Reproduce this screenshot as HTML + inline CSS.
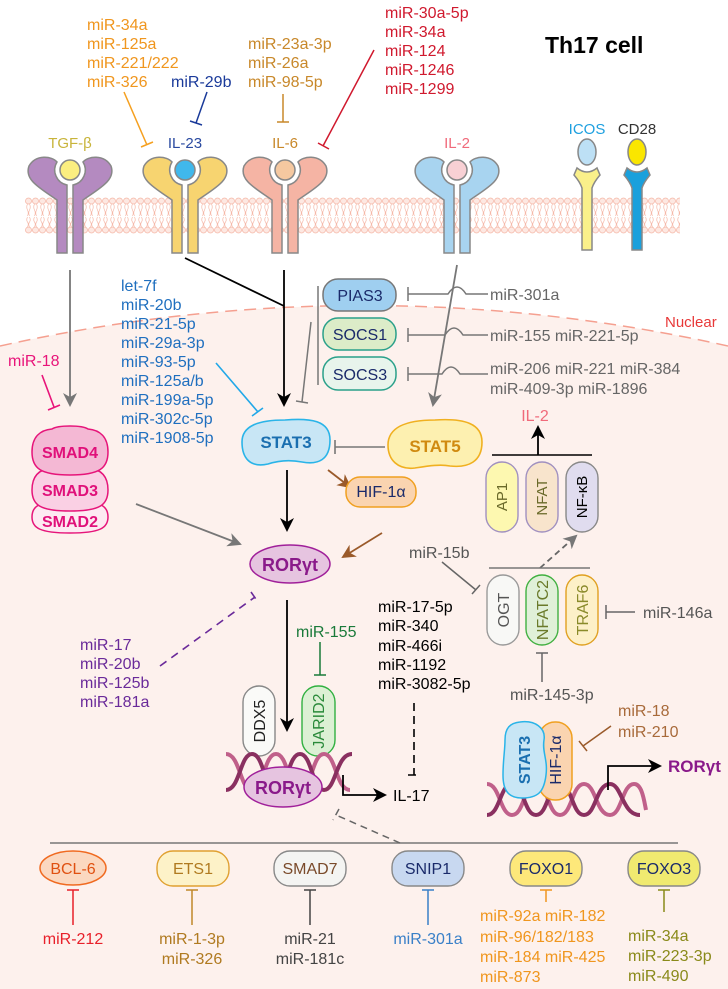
<!DOCTYPE html>
<html><head><meta charset="utf-8"><style>
html,body{margin:0;padding:0;background:#fff}
svg{display:block}
text{font-family:"Liberation Sans",Arial,sans-serif}
</style></head><body>
<svg width="728" height="989" viewBox="0 0 728 989" xmlns="http://www.w3.org/2000/svg">
<defs>
<pattern id="mem" x="25" y="197" width="7" height="38" patternUnits="userSpaceOnUse">
<circle cx="3.5" cy="4" r="3" fill="#fde8e2" stroke="#f5b8a8" stroke-width="0.8"/>
<circle cx="3.5" cy="33" r="3" fill="#fde8e2" stroke="#f5b8a8" stroke-width="0.8"/>
<path d="M2.5 7 q-1.5 3 0 6 t0 6 M4.5 7 q1.5 3 0 6 t0 6 M2.5 20 q-1.5 3 0 5 t0 5 M4.5 20 q1.5 3 0 5 t0 5" fill="none" stroke="#f5b8a8" stroke-width="0.7"/>
</pattern>
<marker id="ag" markerWidth="14" markerHeight="14" refX="12" refY="7" orient="auto" markerUnits="userSpaceOnUse"><path d="M0,0 L14,7 L0,14 L4,7 Z" fill="#777"/></marker>
<marker id="ak" markerWidth="14" markerHeight="14" refX="12" refY="7" orient="auto" markerUnits="userSpaceOnUse"><path d="M0,0 L14,7 L0,14 L4,7 Z" fill="#000"/></marker>
<marker id="abr" markerWidth="14" markerHeight="14" refX="12" refY="7" orient="auto" markerUnits="userSpaceOnUse"><path d="M0,0 L14,7 L0,14 L4,7 Z" fill="#9a5a2a"/></marker>
<g id="rl"><path d="M-3,95 L-3,27 A15.3 15.3 0 0 1 -13,4 C-18,-2 -34,-4 -41,8 C-46,22 -30,30 -13,42 L-13,95 Z"/></g>
</defs>

<path d="M0,346 Q364,265 728,346 L728,989 L0,989 Z" fill="#fdf1ed"/>
<path d="M0,346 Q364,265 728,346" fill="none" stroke="#f5a090" stroke-width="1.5" stroke-dasharray="12,7"/>
<text x="665" y="327" font-size="15" fill="#e83838">Nuclear</text>

<rect x="25" y="197" width="655" height="38" fill="url(#mem)"/>

<text x="545" y="53" font-size="23" font-weight="bold" fill="#000">Th17 cell</text>

<g stroke="#888" stroke-width="1.5">
<g transform="translate(70,158)" fill="#b48ac0"><use href="#rl"/><use href="#rl" transform="scale(-1,1)"/><circle cx="0" cy="12" r="10" fill="#fbee80"/></g>
<g transform="translate(185,158)" fill="#f7d470"><use href="#rl"/><use href="#rl" transform="scale(-1,1)"/><circle cx="0" cy="12" r="10" fill="#40b8ec"/></g>
<g transform="translate(285,158)" fill="#f5b4a4"><use href="#rl"/><use href="#rl" transform="scale(-1,1)"/><circle cx="0" cy="12" r="10" fill="#f5c8a0"/></g>
<g transform="translate(457,158)" fill="#a8d4f0"><use href="#rl"/><use href="#rl" transform="scale(-1,1)"/><circle cx="0" cy="12" r="10" fill="#f8d0d4"/></g>
<ellipse cx="587" cy="152" rx="9" ry="13" fill="#bde0f5"/>
<path d="M577,168 Q587,176 597,168 L600,175 Q594,182 592,188 L592,250 L582,250 L582,188 Q580,182 574,175 Z" fill="#faf08a"/>
<ellipse cx="637" cy="152" rx="9" ry="13" fill="#fae600"/>
<path d="M627,168 Q637,176 647,168 L650,175 Q644,182 642,188 L642,250 L632,250 L632,188 Q630,182 624,175 Z" fill="#1aa0dc"/>
</g>
<text x="70" y="148" font-size="15" fill="#c8b43a" text-anchor="middle">TGF-β</text>
<text x="185" y="148" font-size="15" fill="#2a4aa0" text-anchor="middle">IL-23</text>
<text x="285" y="148" font-size="15" fill="#c8882a" text-anchor="middle">IL-6</text>
<text x="457" y="148" font-size="15" fill="#f06a7a" text-anchor="middle">IL-2</text>
<text x="587" y="134" font-size="15" fill="#1ea0e0" text-anchor="middle">ICOS</text>
<text x="637" y="134" font-size="15" fill="#333" text-anchor="middle">CD28</text>

<g font-size="16">
<g fill="#f0961e"><text x="87" y="30">miR-34a</text><text x="87" y="49">miR-125a</text><text x="87" y="68">miR-221/222</text><text x="87" y="87">miR-326</text></g>
<text x="171" y="87" fill="#1a3a9a">miR-29b</text>
<g fill="#c8882a"><text x="248" y="49">miR-23a-3p</text><text x="248" y="68">miR-26a</text><text x="248" y="87">miR-98-5p</text></g>
<g fill="#d0192e"><text x="385" y="18">miR-30a-5p</text><text x="385" y="37">miR-34a</text><text x="385" y="56">miR-124</text><text x="385" y="75">miR-1246</text><text x="385" y="94">miR-1299</text></g>
</g>
<g fill="none" stroke-width="1.5">
<path d="M124,92 L147,145 M141,147 L153,142" stroke="#f5a020"/>
<path d="M207,92 L196,123 M190,121 L202,125" stroke="#1a3a9a"/>
<path d="M283,94 L283,122 M277,122 L289,122" stroke="#c8882a"/>
<path d="M374,50 L323,146 M318,143 L329,149" stroke="#d0192e"/>
</g>

<g fill="none" stroke-width="1.8">
<path d="M70,270 L70,405" stroke="#777" marker-end="url(#ag)"/>
<path d="M185,258 L284,306" stroke="#000"/>
<path d="M284,270 L284,405" stroke="#000" marker-end="url(#ak)"/>
<path d="M457,265 L433,405" stroke="#777" marker-end="url(#ag)"/>
</g>

<g stroke-width="1.5">
<rect x="323" y="279" width="73" height="32" rx="15" fill="#9fcff0" stroke="#777"/>
<rect x="323" y="318" width="73" height="32" rx="15" fill="#dcecc8" stroke="#2aa08a"/>
<rect x="323" y="357" width="73" height="33" rx="15" fill="#e8f4ec" stroke="#2aa08a"/>
</g>
<g font-size="16" fill="#1a2a6a" text-anchor="middle"><text x="360" y="301">PIAS3</text><text x="360" y="340">SOCS1</text><text x="360" y="380">SOCS3</text></g>
<g fill="none" stroke="#777" stroke-width="1.5">
<path d="M318,286 L318,385"/>
<path d="M311,322 L302,402 M296,401 L308,403"/>
<path d="M488,294 L466,294 Q457,280 448,294 L408,294 M408,287 L408,301"/>
<path d="M488,335 L463,335 Q454,321 445,335 L408,335 M408,328 L408,342"/>
<path d="M488,374 L460,374 Q451,360 442,374 L408,374 M408,367 L408,381"/>
</g>
<g font-size="16" fill="#666" xml:space="preserve"><text x="490" y="300">miR-301a</text><text x="490" y="341">miR-155  miR-221-5p</text><text x="490" y="374">miR-206  miR-221 miR-384</text><text x="490" y="394">miR-409-3p miR-1896</text></g>

<g font-size="16" fill="#1f6fbf"><text x="121" y="291">let-7f</text><text x="121" y="310">miR-20b</text><text x="121" y="329">miR-21-5p</text><text x="121" y="348">miR-29a-3p</text><text x="121" y="367">miR-93-5p</text><text x="121" y="386">miR-125a/b</text><text x="121" y="405">miR-199a-5p</text><text x="121" y="424">miR-302c-5p</text><text x="121" y="443">miR-1908-5p</text></g>
<path d="M216,363 L258,412 M252,416 L263,408" fill="none" stroke="#22a8e8" stroke-width="1.6"/>

<text x="8" y="366" font-size="16" fill="#e8157a">miR-18</text>
<path d="M42,375 L54,407 M48,410 L60,405" fill="none" stroke="#e8157a" stroke-width="1.6"/>
<g stroke="#e6157a" stroke-width="1.5">
<path d="M70,533 C40,533 32,528 32,517 C32,506 40,503 52,502 C58,500 82,500 88,502 C100,503 108,506 108,517 C108,528 100,533 70,533 Z" fill="#fdeaf2"/>
<path d="M70,511 C40,511 32,505 32,490 C32,475 40,469 52,468 C58,466 82,466 88,468 C100,469 108,475 108,490 C108,505 100,511 70,511 Z" fill="#fad0e4"/>
<path d="M70,475 C40,475 32,468 32,452 C32,437 40,430 52,429 C58,425 82,425 88,429 C100,430 108,437 108,452 C108,468 100,475 70,475 Z" fill="#f4b8d4"/>
</g>
<g font-size="16" font-weight="bold" fill="#e0107a" text-anchor="middle"><text x="70" y="458">SMAD4</text><text x="70" y="496">SMAD3</text><text x="70" y="527">SMAD2</text></g>
<path d="M136,504 L240,544" fill="none" stroke="#777" stroke-width="1.8" marker-end="url(#ag)"/>

<path d="M285,420 C310,418 330,420 330,440 C330,460 318,465 302,462 C292,460 280,460 268,464 C250,468 242,458 242,442 C242,426 258,420 285,420 Z" fill="#c8e6f5" stroke="#2ab4e8" stroke-width="1.6"/>
<text x="286" y="448" font-size="17" font-weight="bold" fill="#1a6fb0" text-anchor="middle">STAT3</text>
<path d="M435,420 C465,418 482,424 482,442 C482,462 468,468 450,466 C440,464 428,466 415,468 C398,470 388,460 388,445 C388,428 405,420 435,420 Z" fill="#fdf0b0" stroke="#f0b020" stroke-width="1.6"/>
<text x="435" y="452" font-size="17" font-weight="bold" fill="#d08a10" text-anchor="middle">STAT5</text>
<path d="M385,447 L335,447 M335,440 L335,454" fill="none" stroke="#777" stroke-width="1.6"/>
<path d="M328,470 L350,487" fill="none" stroke="#9a5a2a" stroke-width="1.8" marker-end="url(#abr)"/>
<rect x="346" y="477" width="70" height="30" rx="14" fill="#fad4b0" stroke="#f0a020" stroke-width="1.5"/>
<text x="381" y="497" font-size="16" fill="#1a2a6a" text-anchor="middle">HIF-1α</text>
<path d="M382,533 L343,557" fill="none" stroke="#9a5a2a" stroke-width="1.8" marker-end="url(#abr)"/>
<path d="M287,470 L287,530" fill="none" stroke="#000" stroke-width="1.8" marker-end="url(#ak)"/>

<ellipse cx="290" cy="564" rx="40" ry="19" fill="#e6c4e0" stroke="#a0209a" stroke-width="1.5"/>
<text x="290" y="571" font-size="18" font-weight="bold" fill="#8a1a8a" text-anchor="middle">RORγt</text>
<path d="M160,666 L255,597 M251,592 L258,602" fill="none" stroke="#6a2a9a" stroke-width="1.6" stroke-dasharray="8,6"/>
<g font-size="16" fill="#6a2a9a"><text x="80" y="650">miR-17</text><text x="80" y="669">miR-20b</text><text x="80" y="688">miR-125b</text><text x="80" y="707">miR-181a</text></g>
<path d="M287,600 L287,730" fill="none" stroke="#000" stroke-width="1.8" marker-end="url(#ak)"/>
<text x="296" y="637" font-size="16" fill="#1a7a3a">miR-155</text>
<path d="M320,642 L320,675 M314,675 L326,675" fill="none" stroke="#1a7a3a" stroke-width="1.5"/>
<rect x="243" y="686" width="32" height="70" rx="16" fill="#fafaf8" stroke="#888" stroke-width="1.4"/>
<text transform="translate(265,721) rotate(-90)" font-size="16" fill="#222" text-anchor="middle">DDX5</text>
<rect x="302" y="686" width="33" height="70" rx="16" fill="#dcf0d4" stroke="#30b040" stroke-width="1.4"/>
<text transform="translate(324,721) rotate(-90)" font-size="16" fill="#2a8a3a" text-anchor="middle">JARID2</text>

<g fill="none" stroke-width="4">
<path d="M226,754 C240,754 240,790 252,790 C264,790 264,754 276,754 C288,754 288,790 300,790 C312,790 312,754 324,754 C336,754 336,790 350,790" stroke="#c0608a"/>
<path d="M226,790 C240,790 240,754 252,754 C264,754 264,790 276,790 C288,790 288,754 300,754 C312,754 312,790 324,790 C336,790 336,754 352,754" stroke="#8a3060"/>
</g>
<ellipse cx="283" cy="787" rx="39" ry="20" fill="#e6c4e0" stroke="#a0209a" stroke-width="1.5"/>
<text x="283" y="794" font-size="18" font-weight="bold" fill="#8a1a8a" text-anchor="middle">RORγt</text>
<path d="M343,775 L343,795 L385,795" fill="none" stroke="#000" stroke-width="1.8" marker-end="url(#ak)"/>
<text x="393" y="801" font-size="16" fill="#000">IL-17</text>
<g font-size="16" fill="#000"><text x="378" y="612">miR-17-5p</text><text x="378" y="631">miR-340</text><text x="378" y="651">miR-466i</text><text x="378" y="670">miR-1192</text><text x="378" y="689">miR-3082-5p</text></g>
<path d="M414,703 L414,775 M408,775 L420,775" fill="none" stroke="#000" stroke-width="1.6" stroke-dasharray="8,5"/>

<text x="535" y="421" font-size="16" fill="#f06a7a" text-anchor="middle">IL-2</text>
<path d="M492,455 L592,455" stroke="#000" stroke-width="1.6"/>
<path d="M538,455 L538,427" fill="none" stroke="#000" stroke-width="1.8" marker-end="url(#ak)"/>
<g stroke-width="1.4">
<rect x="486" y="462" width="32" height="70" rx="16" fill="#fdf8b0" stroke="#a090c0"/>
<rect x="526" y="462" width="32" height="70" rx="16" fill="#f8e4cc" stroke="#a090c0"/>
<rect x="566" y="462" width="32" height="70" rx="16" fill="#e0dcef" stroke="#888"/>
</g>
<g font-size="15" text-anchor="middle">
<text transform="translate(507,497) rotate(-90)" fill="#6a6a2a">AP1</text>
<text transform="translate(547,497) rotate(-90)" fill="#6a6a2a">NFAT</text>
<text transform="translate(587,497) rotate(-90)" fill="#000">NF-κB</text>
</g>
<path d="M540,568 L576,536" fill="none" stroke="#666" stroke-width="1.8" stroke-dasharray="6,4" marker-end="url(#ag)"/>
<path d="M489,568 L590,568" stroke="#777" stroke-width="1.5"/>
<g stroke-width="1.4">
<rect x="487" y="575" width="32" height="70" rx="16" fill="#f8f8f6" stroke="#999"/>
<rect x="526" y="575" width="32" height="70" rx="16" fill="#e0f0d8" stroke="#40b040"/>
<rect x="566" y="575" width="32" height="70" rx="16" fill="#fdf0c8" stroke="#e0a020"/>
</g>
<g font-size="16" text-anchor="middle">
<text transform="translate(509,610) rotate(-90)" fill="#555">OGT</text>
<text transform="translate(548,610) rotate(-90)" fill="#6a7a2a">NFATC2</text>
<text transform="translate(588,610) rotate(-90)" fill="#8a8a2a">TRAF6</text>
</g>
<text x="409" y="558" font-size="16" fill="#555">miR-15b</text>
<path d="M442,562 L476,590 M472,594 L480,585" fill="none" stroke="#666" stroke-width="1.5"/>
<text x="643" y="618" font-size="16" fill="#555">miR-146a</text>
<path d="M635,612 L606,612 M606,605 L606,619" fill="none" stroke="#666" stroke-width="1.5"/>
<text x="510" y="700" font-size="16" fill="#555">miR-145-3p</text>
<path d="M542,682 L542,653 M536,653 L548,653" fill="none" stroke="#666" stroke-width="1.5"/>

<g fill="none" stroke-width="4">
<path d="M487,784 C500,784 500,815 512,815 C524,815 524,784 536,784 C548,784 548,815 560,815 C572,815 572,784 584,784 C596,784 596,815 610,815 C622,815 622,784 634,784 C642,784 644,800 646,810" stroke="#c0608a"/>
<path d="M487,815 C500,815 500,784 512,784 C524,784 524,815 536,815 C548,815 548,784 560,784 C572,784 572,815 584,815 C596,815 596,784 610,784 C622,784 622,815 640,815" stroke="#8a3060"/>
</g>
<rect x="539" y="722" width="33" height="78" rx="16" fill="#fad4b0" stroke="#f0a020" stroke-width="1.5"/>
<path d="M520,722 C535,720 546,728 544,740 C542,752 548,760 546,775 C544,792 538,798 522,798 C508,798 503,790 503,775 C503,760 505,750 505,740 C505,728 510,723 520,722 Z" fill="#c8e6f5" stroke="#2ab4e8" stroke-width="1.5"/>
<text transform="translate(530,760) rotate(-90)" font-size="16" font-weight="bold" fill="#1a6fb0" text-anchor="middle">STAT3</text>
<text transform="translate(561,760) rotate(-90)" font-size="16" fill="#1a2a6a" text-anchor="middle">HIF-1α</text>
<g font-size="16" fill="#a86a3a"><text x="618" y="716">miR-18</text><text x="618" y="737">miR-210</text></g>
<path d="M611,726 L583,746 M579,741 L587,751" fill="none" stroke="#9a5a2a" stroke-width="1.5"/>
<path d="M608,790 L608,766 L660,766" fill="none" stroke="#000" stroke-width="1.8" marker-end="url(#ak)"/>
<text x="668" y="772" font-size="17" font-weight="bold" fill="#8a1a8a">RORγt</text>

<path d="M50,843 L678,843" stroke="#777" stroke-width="1.5"/>
<path d="M400,843 L336,815 M339,809 L333,820" fill="none" stroke="#666" stroke-width="1.5" stroke-dasharray="7,5"/>
<ellipse cx="73" cy="868" rx="33" ry="17" fill="#fbd8c0" stroke="#f06a20" stroke-width="1.5"/>
<g stroke-width="1.4">
<rect x="157" y="851" width="72" height="35" rx="16" fill="#fdf2c8" stroke="#e0a030"/>
<rect x="274" y="851" width="72" height="35" rx="16" fill="#f4f4f2" stroke="#888"/>
<rect x="392" y="851" width="72" height="35" rx="16" fill="#c8d8f0" stroke="#888"/>
<rect x="510" y="851" width="72" height="35" rx="16" fill="#fde87a" stroke="#888"/>
<rect x="628" y="851" width="72" height="35" rx="16" fill="#f0ea70" stroke="#888"/>
</g>
<g font-size="16" text-anchor="middle">
<text x="73" y="874" fill="#e05010">BCL-6</text>
<text x="193" y="874" fill="#b07a20">ETS1</text>
<text x="310" y="874" fill="#7a4a2a">SMAD7</text>
<text x="428" y="874" fill="#1a2a6a">SNIP1</text>
<text x="546" y="874" fill="#1a2a6a">FOXO1</text>
<text x="664" y="874" fill="#1a2a6a">FOXO3</text>
</g>
<g fill="none" stroke-width="1.5">
<path d="M73,890 L73,925 M67,890 L79,890" stroke="#e8202a"/>
<path d="M192,890 L192,925 M186,890 L198,890" stroke="#c0882a"/>
<path d="M310,890 L310,925 M304,890 L316,890" stroke="#444"/>
<path d="M428,890 L428,925 M422,890 L434,890" stroke="#3a80c8"/>
<path d="M546,890 L546,902 M540,890 L552,890" stroke="#f0961e"/>
<path d="M664,890 L664,912 M658,890 L670,890" stroke="#8a8a1a"/>
</g>
<g font-size="16" text-anchor="middle">
<text x="73" y="944" fill="#e8202a">miR-212</text>
<text x="192" y="944" fill="#b07a20">miR-1-3p</text><text x="192" y="964" fill="#b07a20">miR-326</text>
<text x="310" y="944" fill="#444">miR-21</text><text x="310" y="964" fill="#444">miR-181c</text>
<text x="428" y="944" fill="#3a80c8">miR-301a</text>
<g fill="#f0961e" text-anchor="start"><text x="480" y="921">miR-92a miR-182</text><text x="480" y="942">miR-96/182/183</text><text x="480" y="962">miR-184 miR-425</text><text x="480" y="982">miR-873</text></g>
<g fill="#8a8a1a" text-anchor="start"><text x="628" y="941">miR-34a</text><text x="628" y="961">miR-223-3p</text><text x="628" y="981">miR-490</text></g>
</g>
</svg>
</body></html>
